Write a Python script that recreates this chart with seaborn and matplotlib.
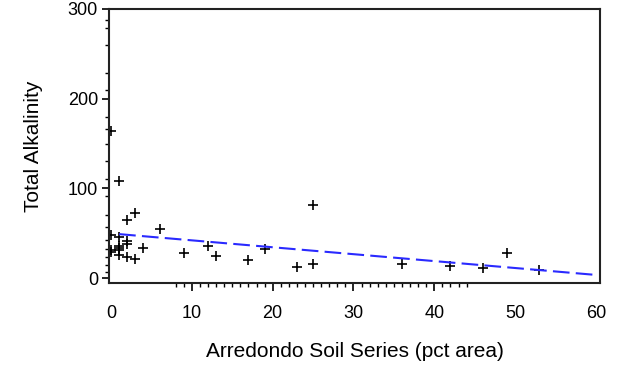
import numpy as np
import pandas as pd
import matplotlib
matplotlib.use("Agg")
import matplotlib.pyplot as plt
import seaborn as sns

# points (pct area, total alkalinity)
soil_pct = [0, 0, 0, 0, 1, 1, 1, 1, 1, 1, 2, 2, 2, 2, 3, 3, 4, 6,
            9, 12, 13, 17, 19, 23, 25, 25, 36, 42, 46, 49, 53]
alkalinity = [164, 48, 31, 29, 108, 46, 36, 33, 31, 26, 65, 41, 38, 24, 73, 21, 33, 55,
              28, 36, 25, 20, 32, 12, 81, 16, 16, 14, 11, 28, 9]

# dashed fitted line (end points)
fit_x = [1, 60]
fit_y = [49, 3.5]

x_ticks = [0, 10, 20, 30, 40, 50, 60]
y_ticks = [0, 100, 200, 300]
y_minor = [7, 15, 23, 32, 43, 57, 70, 91, 111, 130, 149, 166, 180, 210, 229, 260, 279, 288]
x_minor = [v for v in range(8, 45) if v % 10 != 0]

df = pd.DataFrame({"pct": soil_pct, "alk": alkalinity})
fit = pd.DataFrame({"pct": fit_x, "alk": fit_y})

sns.set_style("ticks")
plt.rcParams["font.family"] = ["Liberation Sans", "DejaVu Sans"]
plt.rcParams["text.color"] = "black"
plt.rcParams["axes.labelcolor"] = "black"
plt.rcParams["xtick.color"] = "black"
plt.rcParams["ytick.color"] = "black"

fig, ax = plt.subplots(figsize=(6.19, 3.69), dpi=100)
fig.subplots_adjust(left=109 / 619, right=600 / 619, top=1 - 9 / 369, bottom=1 - 283 / 369)

sns.lineplot(data=fit, x="pct", y="alk", ax=ax, color="#2a2aff", linewidth=1.5,
             dashes=False, linestyle=(0, (8, 3)))
sns.scatterplot(data=df, x="pct", y="alk", ax=ax, marker="+", color="black",
                s=60, linewidth=1.2)

ax.set_xlim(-0.25, 60.5)
ax.set_ylim(-5.5, 300)
ax.set_xticks(x_ticks)
ax.set_yticks(y_ticks)
ax.set_xticks(x_minor, minor=True)
ax.set_yticks(y_minor, minor=True)
ax.tick_params(axis="x", which="major", length=6, width=1.2, pad=10, labelsize=13)
ax.tick_params(axis="x", which="minor", length=3, width=1.0)
ax.tick_params(axis="y", which="major", length=5, width=1.2, pad=3, labelsize=13)
ax.tick_params(axis="y", which="minor", length=3, width=1.0)
for t, v in zip(ax.xaxis.get_major_ticks(), x_ticks):
    if v in (0, 50, 60):
        t.tick1line.set_visible(False)

for sp in ax.spines.values():
    sp.set_visible(True)
    sp.set_linewidth(1.5)
    sp.set_color("#222222")

ax.set_xlabel("Arredondo Soil Series (pct area)", fontsize=15, labelpad=14)
ax.set_ylabel("Total Alkalinity", fontsize=15, labelpad=18)

fig.savefig("out.png", dpi=100)
